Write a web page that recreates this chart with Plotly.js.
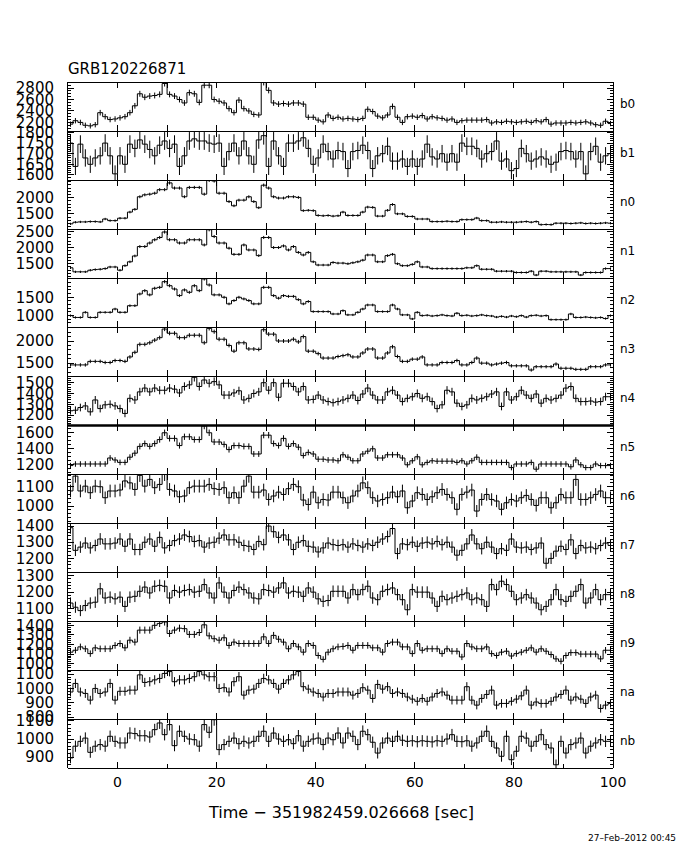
<!DOCTYPE html>
<html><head><meta charset="utf-8">
<script src="https://cdn.plot.ly/plotly-3.0.1.min.js"></script>
<style>html,body{margin:0;padding:0;background:#fff}</style>
</head><body><div id="chart" style="width:680px;height:850px"></div>
<script>
// ---- data (rate per 1 s bin, t = -10 .. 99) ----
const detectors = ['b0','b1','n0','n1','n2','n3','n4','n5','n6','n7','n8','n9','na','nb'];
const timeStart = -10, binWidth = 1;

const b0 = [2170,2230,2200,2150,2140,2160,2370,2300,2250,2260,
2280,2300,2370,2490,2700,2640,2660,2670,2690,2880,
2690,2660,2600,2540,2720,2700,2550,2850,2850,2600,
2570,2540,2440,2370,2590,2440,2400,2340,2330,2900,
2760,2540,2520,2530,2520,2540,2540,2520,2290,2290,
2240,2210,2330,2270,2290,2260,2270,2260,2250,2270,
2430,2390,2310,2280,2330,2480,2290,2200,2300,2310,
2290,2320,2260,2300,2280,2270,2240,2260,2200,2230,
2240,2240,2240,2240,2250,2190,2210,2200,2220,2210,
2200,2210,2220,2200,2230,2210,2250,2170,2190,2190,
2190,2200,2190,2200,2210,2190,2160,2150,2220,2180];
const b1 = [1750,1640,1745,1680,1650,1680,1690,1750,1690,1605,
1690,1650,1745,1725,1765,1745,1720,1690,1740,1760,
1725,1745,1640,1690,1760,1770,1760,1760,1750,1745,
1750,1640,1710,1750,1690,1760,1690,1650,1765,1785,
1640,1760,1690,1640,1750,1750,1760,1775,1725,1650,
1680,1745,1710,1675,1715,1710,1630,1710,1715,1740,
1715,1630,1690,1700,1735,1665,1665,1675,1640,1675,
1640,1675,1745,1685,1675,1700,1660,1700,1660,1750,
1735,1735,1725,1675,1700,1710,1760,1665,1675,1620,
1630,1725,1700,1665,1675,1685,1675,1650,1660,1710,
1715,1710,1675,1710,1605,1710,1735,1660,1690,1700];
const n0 = [1190,1240,1250,1250,1260,1260,1250,1340,1290,1290,
1365,1365,1555,1640,2030,2090,2110,2140,2250,2250,
2460,2300,2300,2030,2320,2320,2320,2110,2540,2520,
2140,2140,1880,1750,1925,1925,2030,1880,1690,2390,
2300,2030,1990,1990,2030,2030,2010,1600,1610,1600,
1450,1440,1450,1430,1440,1555,1450,1450,1450,1555,
1710,1700,1430,1430,1610,1790,1500,1500,1420,1420,
1340,1340,1340,1260,1260,1260,1270,1260,1260,1320,
1320,1320,1370,1290,1290,1240,1240,1250,1240,1240,
1240,1250,1260,1240,1260,1165,1170,1165,1210,1210,
1210,1200,1210,1220,1200,1210,1200,1210,1220,1210];
const n1 = [1375,1250,1250,1250,1300,1320,1330,1350,1400,1400,
1300,1440,1560,1740,2030,2030,2140,2240,2310,2480,
2240,2240,2140,2140,2240,2240,2240,2080,2550,2340,
2140,2140,1980,1790,1790,2080,1925,1925,1750,2310,
2310,2000,2000,2050,1925,2030,1850,1770,1850,1560,
1460,1460,1460,1540,1520,1520,1500,1530,1560,1610,
1770,1770,1560,1560,1750,1790,1500,1440,1440,1480,
1560,1400,1400,1350,1350,1350,1350,1350,1350,1350,
1375,1375,1440,1330,1330,1330,1270,1270,1270,1270,
1230,1230,1230,1270,1150,1270,1270,1250,1250,1250,
1250,1250,1250,1150,1230,1230,1230,1230,1350,1350];
const n2 = [1000,950,950,1090,950,950,1090,1090,1090,1180,
1090,1090,1270,1270,1590,1680,1565,1745,1770,1925,
1815,1725,1545,1700,1635,1815,1680,2000,1835,1565,
1565,1500,1320,1410,1500,1455,1410,1320,1320,1770,
1770,1545,1475,1545,1525,1525,1435,1320,1385,1110,
1110,1110,1110,1045,1045,1135,1020,1020,1090,1180,
1290,1290,1110,1110,1110,1290,1180,1020,1020,910,
1090,1000,1010,990,1000,1020,1000,990,1065,1000,
1010,990,1000,1020,1000,990,960,980,960,990,
970,1000,960,1000,1010,990,1000,890,890,890,
890,1045,950,950,960,950,940,950,920,1000];
const n3 = [1460,1460,1460,1460,1540,1540,1540,1515,1515,1560,
1560,1540,1640,1745,1925,1925,1960,2020,2075,2270,
2175,2175,2075,2075,2130,2130,2130,1960,2285,2210,
2040,2040,1900,1770,1960,1960,1820,1820,1810,2255,
2155,2155,2000,2000,2000,2040,1980,2100,1770,1770,
1715,1615,1615,1615,1650,1670,1690,1640,1640,1730,
1820,1820,1615,1615,1730,1870,1650,1540,1540,1590,
1590,1640,1460,1460,1460,1515,1515,1515,1560,1460,
1460,1515,1615,1500,1500,1460,1480,1500,1515,1440,
1440,1440,1440,1345,1420,1420,1420,1420,1480,1385,
1385,1385,1360,1360,1360,1420,1420,1420,1460,1460];
const n4 = [1240,1245,1270,1285,1230,1340,1260,1295,1300,1285,
1260,1215,1355,1340,1415,1450,1415,1450,1430,1430,
1450,1440,1405,1465,1480,1550,1465,1525,1495,1510,
1480,1385,1385,1405,1425,1340,1355,1400,1415,1500,
1430,1500,1365,1495,1495,1465,1415,1465,1340,1345,
1385,1340,1325,1315,1325,1340,1355,1385,1335,1395,
1450,1385,1340,1340,1415,1430,1385,1325,1355,1370,
1400,1355,1370,1325,1260,1295,1430,1415,1310,1280,
1295,1355,1340,1355,1370,1395,1415,1280,1415,1340,
1370,1430,1385,1355,1395,1310,1355,1340,1355,1385,
1450,1465,1355,1325,1325,1330,1320,1325,1370,1370];
const n5 = [1190,1210,1210,1210,1210,1210,1210,1210,1285,1260,
1230,1230,1295,1345,1430,1465,1430,1465,1515,1600,
1530,1530,1440,1550,1550,1515,1515,1685,1600,1485,
1485,1455,1390,1440,1440,1430,1430,1335,1335,1570,
1570,1465,1440,1530,1430,1465,1420,1315,1355,1335,
1270,1270,1260,1260,1250,1325,1295,1250,1250,1335,
1370,1400,1285,1285,1325,1325,1325,1285,1200,1250,
1300,1200,1230,1250,1245,1245,1245,1245,1230,1250,
1210,1250,1295,1230,1230,1230,1230,1230,1230,1165,
1210,1210,1210,1230,1145,1210,1210,1210,1210,1210,
1210,1175,1260,1200,1165,1165,1210,1190,1190,1190];
const n6 = [1078,1155,1078,1103,1069,1103,1100,1043,1078,1078,
1083,1130,1120,1086,1159,1103,1138,1095,1112,1164,
1086,1078,1048,1052,1095,1103,1103,1103,1112,1090,
1086,1095,1043,1069,1043,1103,1155,1072,1072,1083,
1034,1052,1072,1060,1090,1112,1100,1031,1008,1072,
1017,1034,1031,1072,1072,1043,1017,1052,1078,1120,
1095,1043,1026,1034,1043,1072,1048,1078,991,1026,
1069,1060,1034,1048,1069,1086,1060,1043,983,1060,
1072,1083,974,1034,1060,1034,1026,983,1017,1034,
1026,1043,1055,1034,1003,1043,1043,991,1017,1060,
1043,1043,1138,1034,1034,1043,1060,1078,1043,1043];
const n7 = [1390,1250,1270,1295,1265,1280,1320,1290,1290,1295,
1320,1275,1320,1255,1255,1300,1320,1275,1330,1265,
1280,1310,1320,1345,1335,1305,1310,1270,1295,1300,
1325,1345,1315,1315,1300,1280,1275,1255,1305,1285,
1400,1365,1330,1345,1315,1255,1300,1310,1275,1270,
1240,1265,1295,1285,1280,1285,1270,1290,1280,1270,
1290,1280,1300,1320,1335,1385,1230,1290,1285,1300,
1275,1295,1300,1290,1305,1285,1300,1270,1220,1250,
1290,1345,1290,1260,1300,1270,1230,1260,1250,1320,
1270,1265,1270,1255,1265,1295,1170,1200,1245,1275,
1255,1315,1230,1280,1265,1270,1260,1280,1295,1280];
const n8 = [1135,1110,1090,1120,1135,1140,1220,1165,1170,1160,
1170,1115,1170,1175,1205,1230,1195,1235,1240,1235,
1165,1210,1200,1210,1215,1200,1205,1245,1195,1165,
1255,1200,1165,1210,1230,1215,1195,1165,1160,1215,
1210,1200,1225,1255,1195,1205,1200,1175,1225,1200,
1160,1145,1150,1205,1205,1205,1165,1215,1185,1215,
1235,1165,1155,1205,1215,1225,1185,1155,1095,1215,
1200,1200,1200,1165,1115,1175,1155,1165,1175,1185,
1195,1155,1165,1155,1115,1245,1215,1265,1245,1205,
1155,1165,1185,1165,1135,1095,1115,1155,1215,1155,
1145,1175,1205,1245,1135,1165,1215,1155,1185,1185];
const n9 = [1120,1140,1175,1155,1105,1165,1155,1155,1155,1190,
1210,1165,1245,1225,1350,1350,1350,1400,1420,1435,
1315,1350,1370,1365,1305,1305,1325,1405,1290,1260,
1245,1270,1190,1225,1210,1210,1210,1210,1210,1280,
1210,1295,1255,1225,1155,1210,1175,1120,1210,1190,
1085,1045,1120,1155,1175,1180,1190,1140,1190,1190,
1190,1165,1165,1120,1210,1225,1225,1175,1175,1105,
1210,1140,1155,1155,1155,1105,1155,1130,1130,1070,
1210,1175,1155,1155,1175,1105,1085,1120,1130,1080,
1105,1120,1140,1165,1120,1155,1130,1095,1050,1025,
1085,1115,1115,1100,1100,1100,1100,1050,1140,1140];
const na = [975,1035,975,965,918,1000,965,975,1035,918,
980,980,988,988,1095,1042,1047,1060,1070,1105,
1118,1047,1060,1060,1070,1082,1118,1095,1082,1082,
1000,1005,975,1047,1082,953,988,995,1035,1070,
1060,1035,995,1035,1060,1095,1118,1012,995,975,
965,940,965,965,975,975,975,953,965,1005,
988,930,1028,995,1012,965,975,965,940,925,
910,930,910,940,965,975,953,918,918,918,
1012,918,883,930,958,988,883,895,895,910,
925,948,988,883,905,895,895,910,940,958,
988,918,940,925,895,940,953,860,883,895];
const nb = [895,960,987,1005,926,960,969,960,1015,987,
978,978,1033,1030,1018,1018,1011,1052,1089,1024,
1080,963,1043,1015,1000,996,960,1080,1037,1107,
941,969,987,1005,974,987,978,987,1015,1043,
987,1033,1000,987,996,974,1018,960,987,1000,
1005,969,1005,996,1033,978,1033,1015,969,1043,
1024,982,922,978,1005,987,1015,993,987,990,
985,990,987,984,990,987,1000,1024,987,985,
990,960,978,1015,1043,987,950,904,1015,885,
932,1015,1005,960,987,1024,969,950,857,987,
922,969,978,1005,922,960,978,996,987,987];

const series = [b0,b1,n0,n1,n2,n3,n4,n5,n6,n7,n8,n9,na,nb];

// per-panel y axis settings
const yRanges = [[2050,2906],[1576,1807],[1030,2550],[1060,2572],[690,2025],[1210,2316],
  [1108,1562],[1085,1697],[912,1166],[1116,1419],[1028,1320],[934,1445],[786,1129],[839,1111]];
const yTicks = [[2200,2400,2600,2800],[1600,1650,1700,1750,1800],[1500,2000],[1500,2000,2500],
  [1000,1500],[1500,2000],[1200,1300,1400,1500],[1200,1400,1600],[1000,1100],[1200,1300,1400],
  [1100,1200,1300],[1000,1100,1200,1300,1400],[800,900,1000,1100],[900,1000,1100]];
const yMinor = [50,10,100,100,100,100,20,50,20,20,20,20,20,20];
const xTickLabels = ['0','20','40','60','80','100'];

const binCenters = b0.map((_, i) => timeStart + (i + 0.5) * binWidth);

const N = detectors.length;
const FONT = 'DejaVu Sans, sans-serif';
const MT = 82, MB = 82, PH = 850 - MT - MB; // 686 = 14 * 49
const PANEL_PX = PH / N;
const traces = [];
const layout = {
  width: 680, height: 850,
  margin: {l: 68, r: 67, t: MT, b: MB},
  paper_bgcolor: '#fff', plot_bgcolor: '#fff',
  showlegend: false,
  font: {family: FONT, color: '#000'},
  title: {text: 'GRB120226871', font: {family: FONT, size: 15, color: '#000'},
          x: 68/680, xanchor: 'left', xref: 'container', y: 1 - 69/850, yanchor: 'middle', yref: 'container'},
  annotations: [], shapes: []
};

for (let k = 0; k < N; k++) {
  const id = k === 0 ? '' : String(k + 1);
  traces.push({
    x: binCenters, y: series[k], type: 'scatter', mode: 'lines',
    line: {shape: 'hvh', color: '#000', width: 1},
    error_y: {type: 'sqrt', visible: true, color: '#000', thickness: 1, width: 0},
    xaxis: 'x' + id, yaxis: 'y' + id, hoverinfo: 'skip'
  });
  const top = 1 - k / N, bot = 1 - (k + 1) / N;
  const last = k === N - 1;
  const xa = {
    domain: [0, 1], anchor: 'y' + id, range: [-10, 100],
    showgrid: false, zeroline: false, showline: false,
    mirror: 'allticks', ticks: 'inside', ticklen: 6, tickcolor: '#000', tickwidth: 1,
    showticklabels: false, fixedrange: true
  };
  if (last) {
    xa.tickmode = 'array'; xa.tickvals = [0,20,40,60,80,100]; xa.ticktext = xTickLabels;
    xa.showticklabels = true; xa.tickfont = {family: FONT, size: 14, color: '#000'};
    xa.ticklabelstandoff = 4;
    xa.minor = {tickmode: 'array', tickvals: [-10,10,30,50,70,90], ticks: 'inside', ticklen: 4, tickcolor: '#000'};
  } else {
    xa.tickmode = 'array'; xa.tickvals = [0,10,20,30,40,50,60,70,80,90];
  }
  layout['xaxis' + id] = xa;
  layout['yaxis' + id] = {
    domain: [bot, top], anchor: 'x' + id, range: yRanges[k],
    tickmode: 'array', tickvals: yTicks[k],
    showgrid: false, zeroline: false, showline: true, linecolor: '#000', linewidth: 1,
    mirror: 'allticks', ticks: 'inside', ticklen: 6, tickcolor: '#000',
    minor: {dtick: yMinor[k], tick0: 0, ticks: 'inside', ticklen: 3, tickcolor: '#000'},
    tickfont: {family: FONT, size: 15, color: '#000'}, ticklabelstandoff: 10,
    fixedrange: true
  };
  layout.annotations.push({
    text: detectors[k], xref: 'paper', yref: 'paper', x: 1.009, y: (top + bot) / 2 + 0.004,
    xanchor: 'left', yanchor: 'middle', showarrow: false,
    font: {family: FONT, size: 12, color: '#000'}
  });
}
// panel frame lines (one crisp line per boundary)
for (let b = 0; b <= N; b++) {
  const yp = 1 - (b * PANEL_PX + 0.5) / PH;
  layout.shapes.push({type: 'line', xref: 'paper', yref: 'paper', x0: 0, x1: 1, y0: yp, y1: yp,
    line: {color: '#000', width: b === N / 2 ? 2.5 : 1}});
}
layout.annotations.push({
  text: 'Time − 351982459.026668 [sec]', xref: 'paper', yref: 'paper',
  x: 0.5, y: -44/PH, xanchor: 'center', yanchor: 'middle', showarrow: false,
  font: {family: FONT, size: 16, color: '#000'}
});
layout.annotations.push({
  text: '27–Feb–2012 00:45', xref: 'paper', yref: 'paper',
  x: (678 - 68) / 545, y: -70/PH, xanchor: 'right', yanchor: 'middle', showarrow: false,
  font: {family: FONT, size: 9, color: '#000'}
});

Plotly.newPlot('chart', traces, layout, {staticPlot: true, displayModeBar: false});
</script></body></html>
